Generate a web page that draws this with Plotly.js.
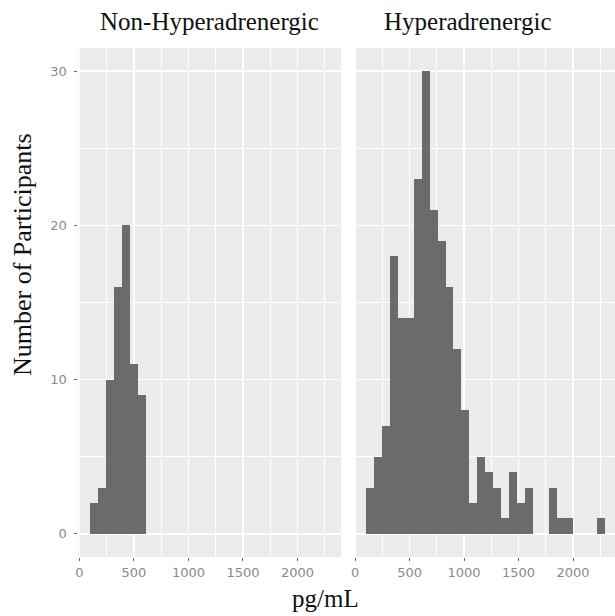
<!DOCTYPE html>
<html>
<head>
<meta charset="utf-8">
<script src="https://cdn.plot.ly/plotly-3.0.1.min.js"></script>
<style>
  html, body { margin: 0; padding: 0; background: #ffffff; }
  #chart { width: 615px; height: 616px; }
</style>
</head>
<body>
<div id="chart"></div>
<script>
// ---- data ----
const binStarts = [100, 173, 246, 319, 392, 465, 538, 611, 684, 757,
                   830, 903, 976, 1049, 1122, 1195, 1268, 1341, 1414, 1487,
                   1560, 1633, 1706, 1779, 1852, 1925, 1998, 2071, 2144, 2217];
const binWidth = 73;
const nonHyperCounts = [2, 3, 10, 16, 20, 11, 9, 0, 0, 0,
                        0, 0, 0, 0, 0, 0, 0, 0, 0, 0,
                        0, 0, 0, 0, 0, 0, 0, 0, 0, 0];
const hyperCounts = [3, 5, 7, 18, 14, 14, 23, 30, 21, 19,
                     16, 12, 8, 2, 5, 4, 3, 1, 4, 2,
                     3, 0, 0, 3, 1, 1, 0, 0, 0, 1];
const panelLabels = ["Non-Hyperadrenergic", "Hyperadrenergic"];
const xTickVals = [0, 500, 1000, 1500, 2000];
const yTickVals = [0, 10, 20, 30];
const xTitle = "pg/mL";
const yTitle = "Number of Participants";

// ---- styling ----
const W = 615, H = 616;
const barColor = "#6b6b6b";
const panelBg = "#ebebeb";
const tickFont = { family: "DejaVu Sans", size: 13, color: "#8a8a8a" };
const serif = "Liberation Serif";

const traces = [
  { type: "bar", x: binStarts, y: nonHyperCounts, width: binWidth, offset: 0,
    xaxis: "x", yaxis: "y", marker: { color: barColor, line: { width: 0 } },
    hoverinfo: "x+y", showlegend: false },
  { type: "bar", x: binStarts, y: hyperCounts, width: binWidth, offset: 0,
    xaxis: "x2", yaxis: "y2", marker: { color: barColor, line: { width: 0 } },
    hoverinfo: "x+y", showlegend: false }
];

const yDom = [(H - 557) / H, (H - 48) / H];
const xCommon = {
  tickvals: xTickVals, ticktext: xTickVals.map(String),
  ticks: "outside", ticklen: 3, tickwidth: 1, tickcolor: "#666666",
  showgrid: true, gridcolor: "#ffffff", gridwidth: 1.5,
  minor: { dtick: 250, tick0: 0, showgrid: true, gridcolor: "#ffffff", gridwidth: 1, ticks: "" },
  zeroline: false, showline: false, tickfont: tickFont, fixedrange: true
};
const yCommon = {
  range: [-1.5, 31.5], domain: yDom,
  tickvals: yTickVals,
  showgrid: true, gridcolor: "#ffffff", gridwidth: 1.5,
  minor: { dtick: 5, tick0: 0, showgrid: true, gridcolor: "#ffffff", gridwidth: 1, ticks: "" },
  zeroline: false, showline: false, fixedrange: true
};

const layout = {
  width: W, height: H,
  margin: { l: 0, r: 0, t: 0, b: 0 },
  paper_bgcolor: "#ffffff",
  plot_bgcolor: panelBg,
  bargap: 0,
  showlegend: false,
  xaxis: Object.assign({}, xCommon, { domain: [78.4 / W, 341 / W], range: [-9.5, 2399.5], anchor: "y" }),
  xaxis2: Object.assign({}, xCommon, { domain: [354 / W, 1], range: [-9.5, 2384.5], anchor: "y2" }),
  yaxis: Object.assign({}, yCommon, {
    anchor: "x", ticks: "outside", ticklen: 3, tickwidth: 1, tickcolor: "#666666",
    tickfont: tickFont, ticklabelstandoff: 5
  }),
  yaxis2: Object.assign({}, yCommon, { anchor: "x2", showticklabels: false, ticks: "" }),
  annotations: [
    { text: panelLabels[0], xref: "paper", yref: "paper", x: 209.7 / W, y: 1 - 22 / H,
      xanchor: "center", yanchor: "middle", showarrow: false,
      font: { family: serif, size: 25, color: "#111111" } },
    { text: panelLabels[1], xref: "paper", yref: "paper", x: 468 / W, y: 1 - 22 / H,
      xanchor: "center", yanchor: "middle", showarrow: false,
      font: { family: serif, size: 25, color: "#111111" } },
    { text: xTitle, xref: "paper", yref: "paper", x: 326 / W, y: 1 - 598 / H,
      xanchor: "center", yanchor: "middle", showarrow: false,
      font: { family: serif, size: 25, color: "#111111" } },
    { text: yTitle, xref: "paper", yref: "paper", x: 22 / W, y: 1 - 255 / H,
      xanchor: "center", yanchor: "middle", showarrow: false, textangle: -90,
      font: { family: serif, size: 26, color: "#111111" } }
  ]
};

Plotly.newPlot("chart", traces, layout, { displayModeBar: false, staticPlot: true });
</script>
</body>
</html>
